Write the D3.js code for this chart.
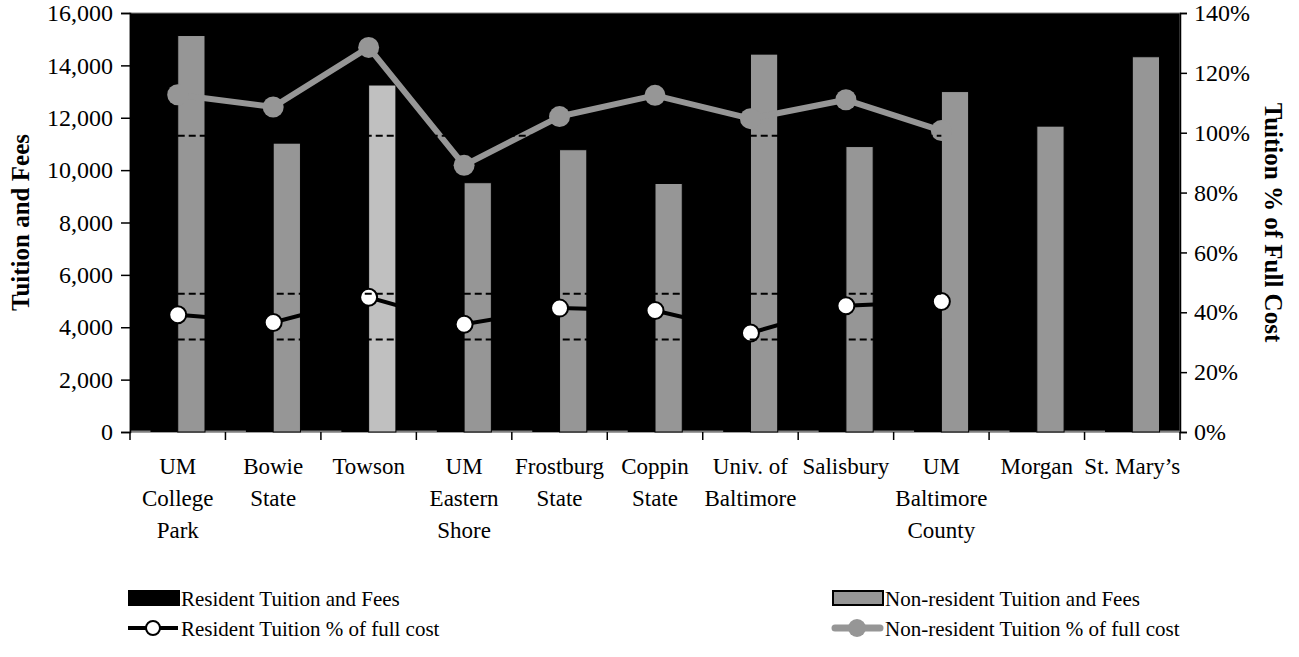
<!DOCTYPE html>
<html>
<head>
<meta charset="utf-8">
<script src="https://cdn.jsdelivr.net/npm/d3@7"></script>
<style>
  body { margin: 0; background: #fff; }
  text { font-family: "Liberation Serif", "Times New Roman", serif; fill: #000; }
</style>
</head>
<body>
<svg id="chart" width="1299" height="657"></svg>
<script>
// category labels, "_" marks a line break
const schools = [
  "UM_College_Park", "Bowie_State", "Towson", "UM_Eastern_Shore", "Frostburg_State",
  "Coppin_State", "Univ. of_Baltimore", "Salisbury", "UM_Baltimore_County", "Morgan", "St. Mary’s"
];

// tuition and fees (dollars); resident bars are black on black so only estimated
const residentFees = [5670, 4700, 5800, 4600, 5300, 4000, 5500, 5400, 6800, 5500, 9300];
const nonResidentFees = [15140, 11030, 13250, 9520, 10780, 9490, 14430, 10900, 13000, 11680, 14330];

// tuition as share of full cost (USM schools only)
const residentPct = [0.392, 0.366, 0.450, 0.360, 0.414, 0.406, 0.331, 0.422, 0.436];
const nonResidentPct = [1.127, 1.086, 1.285, 0.891, 1.054, 1.125, 1.047, 1.110, 1.007];

// dashed reference levels across the USM schools
const refUpper = [0.99, 0.99, 0.99, 0.99, 0.99, 0.99, 0.99, 0.99, 0.99];
const refMid = [0.462, 0.462, 0.462, 0.462, 0.462, 0.462, 0.462, 0.462, 0.462];
const refLow = [0.309, 0.309, 0.309, 0.309, 0.309, 0.309, 0.309, 0.309, 0.309];

const feeTicks = [0, 2000, 4000, 6000, 8000, 10000, 12000, 14000, 16000];
const pctTicks = [0, 0.2, 0.4, 0.6, 0.8, 1.0, 1.2, 1.4];

const GRAY = "#969696", LIGHT = "#c0c0c0";
const plotL = 130, plotR = 1180, plotT = 13, plotB = 432;

const svg = d3.select("#chart");

const x = d3.scaleBand().domain(d3.range(schools.length)).range([plotL, plotR]);
const xs = d3.scaleBand().domain(["res", "non"]).range([0, x.bandwidth()]).paddingOuter(0.75);
const yFee = d3.scaleLinear().domain([0, 16000]).range([plotB, plotT]);
const yPct = d3.scaleLinear().domain([0, 1.4]).range([plotB, plotT]);
const cx = (i) => x(i) + x.bandwidth() / 2;

// plot area
svg.append("rect")
  .attr("x", plotL).attr("y", plotT)
  .attr("width", plotR - plotL).attr("height", plotB - plotT)
  .attr("fill", "#000").attr("stroke", "#808080");

// baseline (gray, hidden where bars sit)
svg.append("line")
  .attr("x1", plotL).attr("x2", plotR).attr("y1", plotB - 0.5).attr("y2", plotB - 0.5)
  .attr("stroke", "#808080").attr("stroke-width", 2);

// bars
const groups = svg.append("g").selectAll("g").data(schools).join("g");
groups.append("rect")
  .attr("x", (d, i) => x(i) + xs("res"))
  .attr("y", (d, i) => yFee(residentFees[i]))
  .attr("width", xs.bandwidth())
  .attr("height", (d, i) => plotB - yFee(residentFees[i]))
  .attr("fill", "#000");
groups.append("rect")
  .attr("x", (d, i) => x(i) + xs("non"))
  .attr("y", (d, i) => yFee(nonResidentFees[i]))
  .attr("width", xs.bandwidth())
  .attr("height", (d, i) => plotB - yFee(nonResidentFees[i]))
  .attr("fill", (d, i) => (i === 2 ? LIGHT : GRAY))
  .attr("stroke", "#000").attr("stroke-width", 1);

// non-resident % line
const line = d3.line().x((d, i) => cx(i)).y((d) => yPct(d));
svg.append("path").datum(nonResidentPct)
  .attr("d", line).attr("fill", "none")
  .attr("stroke", GRAY).attr("stroke-width", 6).attr("stroke-linejoin", "round");
svg.append("g").selectAll("circle").data(nonResidentPct).join("circle")
  .attr("cx", (d, i) => cx(i)).attr("cy", (d) => yPct(d))
  .attr("r", 10.5).attr("fill", GRAY);

// resident % line
svg.append("path").datum(residentPct)
  .attr("d", line).attr("fill", "none")
  .attr("stroke", "#000").attr("stroke-width", 4);
svg.append("g").selectAll("circle").data(residentPct).join("circle")
  .attr("cx", (d, i) => cx(i)).attr("cy", (d) => yPct(d))
  .attr("r", 8.5).attr("fill", "#fff").attr("stroke", "#000").attr("stroke-width", 2);

// dashed reference lines on top
[refUpper, refMid, refLow].forEach((ref) => {
  svg.append("path").datum(ref)
    .attr("d", line).attr("fill", "none")
    .attr("stroke", "#000").attr("stroke-width", 2).attr("stroke-dasharray", "7,4");
});

// left axis
const yAxisL = svg.append("g").attr("transform", `translate(${plotL},0)`)
  .call(d3.axisLeft(yFee).tickValues(feeTicks).tickSize(9).tickPadding(8)
    .tickFormat(d3.format(",")));
// right axis
const yAxisR = svg.append("g").attr("transform", `translate(${plotR},0)`)
  .call(d3.axisRight(yPct).tickValues(pctTicks).tickSize(7).tickPadding(7)
    .tickFormat(d3.format(".0%")));
[yAxisL, yAxisR].forEach((ax) => {
  ax.select(".domain").attr("stroke", "#000").attr("stroke-width", 1.5);
  ax.selectAll(".tick line").attr("stroke", "#000").attr("stroke-width", 1.5);
  ax.selectAll(".tick text")
    .style("font-family", "Liberation Serif").style("font-size", "24px").attr("fill", "#000");
});

// x category ticks at band boundaries
svg.append("g").selectAll("line").data(d3.range(schools.length + 1)).join("line")
  .attr("x1", (i) => plotL + i * x.step()).attr("x2", (i) => plotL + i * x.step())
  .attr("y1", plotB).attr("y2", plotB + 8)
  .attr("stroke", "#000").attr("stroke-width", 1.5);

// x labels
svg.append("g").selectAll("text").data(schools).join("text")
  .attr("text-anchor", "middle").style("font-size", "23px")
  .each(function (d, i) {
    d.split("_").forEach((part, k) => {
      d3.select(this).append("tspan")
        .attr("x", cx(i)).attr("y", 474 + k * 32).text(part);
    });
  });

// axis titles
svg.append("text")
  .attr("transform", `translate(29,${(plotT + plotB) / 2}) rotate(-90)`)
  .attr("text-anchor", "middle").style("font-size", "25px").style("font-weight", "bold")
  .text("Tuition and Fees");
svg.append("text")
  .attr("transform", `translate(1265,${(plotT + plotB) / 2}) rotate(90)`)
  .attr("text-anchor", "middle").style("font-size", "25px").style("font-weight", "bold")
  .text("Tuition % of Full Cost");

// legend
const legend = svg.append("g");
const legendItems = [
  { label: "Resident Tuition and Fees", kind: "bar", fill: "#000", x: 128, y: 598 },
  { label: "Non-resident Tuition and Fees", kind: "bar", fill: GRAY, x: 832, y: 598 },
  { label: "Resident Tuition % of full cost", kind: "res", x: 128, y: 628 },
  { label: "Non-resident Tuition % of full cost", kind: "non", x: 832, y: 628 }
];
legendItems.forEach((it) => {
  const g = legend.append("g").attr("transform", `translate(${it.x},${it.y})`);
  if (it.kind === "bar") {
    g.append("rect").attr("x", 1).attr("y", -7).attr("width", 50).attr("height", 14)
      .attr("fill", it.fill).attr("stroke", "#000").attr("stroke-width", 2);
  } else if (it.kind === "res") {
    g.append("line").attr("x1", 0).attr("x2", 50).attr("stroke", "#000").attr("stroke-width", 4);
    g.append("circle").attr("cx", 25).attr("r", 7).attr("fill", "#fff")
      .attr("stroke", "#000").attr("stroke-width", 2);
  } else {
    g.append("line").attr("x1", 3).attr("x2", 48).attr("stroke", GRAY)
      .attr("stroke-width", 7).attr("stroke-linecap", "round");
    g.append("circle").attr("cx", 25).attr("r", 9).attr("fill", GRAY);
  }
  g.append("text").attr("x", 53).attr("y", 8).style("font-size", "21px").text(it.label);
});
</script>
</body>
</html>
